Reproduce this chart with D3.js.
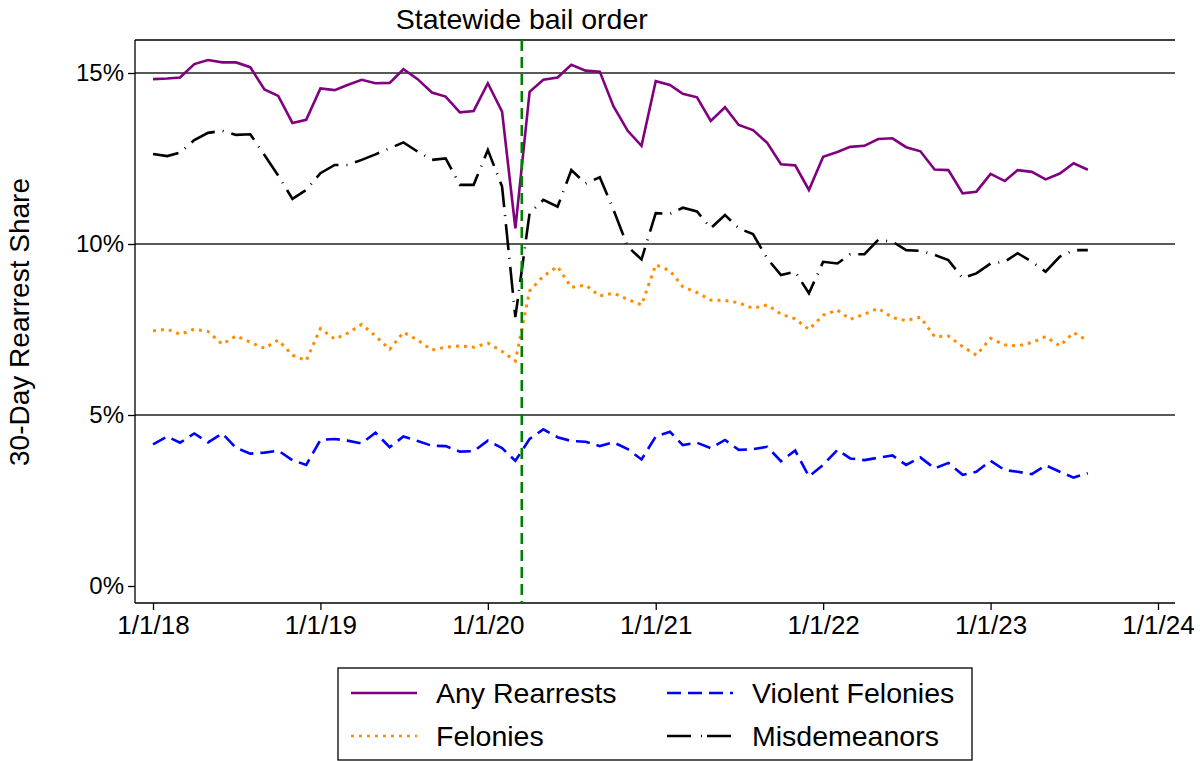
<!DOCTYPE html>
<html><head><meta charset="utf-8">
<script src="https://cdn.jsdelivr.net/npm/d3@7"></script>
<style>body{margin:0;background:#fff;}svg{display:block;font-family:"Liberation Sans",Arial,sans-serif;}</style>
</head><body><svg id="c" width="1200" height="761"></svg>
<script>
// Monthly data: Jan 2018 .. Aug 2023 (values in percent)
const startMonth = "2018-01-01";
const anyRearrests = [14.82,14.84,14.87,15.26,15.38,15.31,15.31,15.17,14.52,14.33,13.54,13.63,
  14.55,14.5,14.65,14.8,14.7,14.71,15.11,14.82,14.43,14.31,13.85,13.89,
  14.7,13.87,10.46,14.45,14.8,14.87,15.24,15.07,15.04,14.02,13.31,12.87,
  14.76,14.65,14.39,14.29,13.6,14.0,13.48,13.33,12.96,12.33,12.3,11.58,
  12.55,12.69,12.84,12.87,13.07,13.09,12.83,12.71,12.18,12.16,11.48,11.53,
  12.05,11.84,12.16,12.11,11.89,12.06,12.36,12.17];
const misdemeanors = [12.63,12.57,12.67,13.04,13.25,13.31,13.19,13.21,12.6,12.0,11.32,11.58,
  12.07,12.31,12.31,12.46,12.62,12.8,12.97,12.7,12.46,12.5,11.73,11.73,
  12.75,11.68,7.86,10.9,11.29,11.09,12.16,11.77,11.95,11.0,9.92,9.55,
  10.9,10.88,11.06,10.95,10.46,10.85,10.46,10.29,9.58,9.09,9.19,8.56,
  9.48,9.43,9.7,9.7,10.12,10.07,9.82,9.8,9.68,9.53,9.0,9.14,
  9.43,9.48,9.73,9.48,9.19,9.63,9.82,9.82];
const felonies = [7.46,7.51,7.36,7.51,7.44,7.07,7.31,7.13,6.95,7.19,6.75,6.59,
  7.53,7.22,7.39,7.65,7.31,6.92,7.42,7.19,6.9,6.98,7.02,6.98,
  7.1,6.86,6.58,8.63,9.06,9.34,8.73,8.8,8.48,8.56,8.38,8.22,
  9.39,9.22,8.75,8.58,8.36,8.35,8.28,8.12,8.22,7.95,7.81,7.5,
  7.92,8.07,7.8,7.95,8.12,7.85,7.76,7.86,7.29,7.31,7.0,6.75,
  7.24,7.05,7.02,7.12,7.29,7.02,7.41,7.17];
const violentFelonies = [4.14,4.37,4.19,4.46,4.2,4.46,4.04,3.87,3.9,3.96,3.68,3.54,
  4.27,4.3,4.25,4.17,4.48,4.06,4.37,4.24,4.1,4.09,3.93,3.94,
  4.25,4.03,3.66,4.3,4.58,4.35,4.24,4.22,4.09,4.2,4.0,3.7,
  4.37,4.51,4.12,4.19,4.03,4.27,3.98,4.0,4.07,3.65,3.96,3.2,
  3.54,3.98,3.73,3.68,3.75,3.82,3.54,3.76,3.44,3.6,3.25,3.34,
  3.66,3.39,3.34,3.27,3.53,3.34,3.17,3.3];
const xTickDates = ["2018-01-01","2019-01-01","2020-01-01","2021-01-01","2022-01-01","2023-01-01","2024-01-01"];
const xTickLabels = ["1/1/18","1/1/19","1/1/20","1/1/21","1/1/22","1/1/23","1/1/24"];
const yTicks = [0,5,10,15];
const yTickLabels = ["0%","5%","10%","15%"];
const yGrid = [5,10,15];
const bailOrderDate = "2020-03-15";
const bailOrderLabel = "Statewide bail order";
const yTitle = "30-Day Rearrest Share";
const seriesNames = ["Any Rearrests","Violent Felonies","Felonies","Misdemeanors"];

const parse = d3.timeParse("%Y-%m-%d");
const t0 = parse(startMonth);
const months = anyRearrests.map((_, i) => d3.timeMonth.offset(t0, i));

const svg = d3.select("#c");
const x = d3.scaleTime().domain([parse(xTickDates[0]), parse(xTickDates[6])]).range([153, 1158]);
const y = d3.scaleLinear().domain([0, 15]).range([586, 73]);
const L = 135, R = 1175, T = 40, B = 603;

// gridlines
svg.append("g").selectAll("line").data(yGrid).join("line")
  .attr("x1", L).attr("x2", R).attr("y1", d => y(d)).attr("y2", d => y(d))
  .attr("stroke", "#222").attr("stroke-width", 1.3);
// top frame
svg.append("line").attr("x1", L).attr("x2", R).attr("y1", T).attr("y2", T).attr("stroke", "#000").attr("stroke-width", 1.3);

// axes
const xAxis = d3.axisBottom(x).tickValues(xTickDates.map(parse)).tickFormat((d, i) => xTickLabels[i]).tickSize(7).tickSizeOuter(0);
const gx = svg.append("g").attr("transform", `translate(0,${B})`).call(xAxis);
gx.select(".domain").remove();
gx.append("line").attr("x1", L).attr("x2", R).attr("stroke", "#000").attr("stroke-width", 1.3);
gx.selectAll(".tick line").attr("stroke", "#000").attr("stroke-width", 1.3);
gx.selectAll(".tick text").attr("font-size", 26).attr("fill", "#000").attr("y", 13).attr("dy", "0.71em").attr("font-family", "Liberation Sans, Arial, sans-serif");

const yAxis = d3.axisLeft(y).tickValues(yTicks).tickFormat((d, i) => yTickLabels[i]).tickSize(7).tickSizeOuter(0);
const gy = svg.append("g").attr("transform", `translate(${L},0)`).call(yAxis);
gy.select(".domain").remove();
gy.append("line").attr("y1", T).attr("y2", B).attr("stroke", "#000").attr("stroke-width", 1.3);
gy.selectAll(".tick line").attr("stroke", "#000").attr("stroke-width", 1.3);
gy.selectAll(".tick text").attr("font-size", 24).attr("fill", "#000").attr("x", -11).attr("font-family", "Liberation Sans, Arial, sans-serif");

// y title
svg.append("text").attr("transform", "translate(29,322) rotate(-90)").attr("text-anchor", "middle")
  .attr("font-size", 28).text(yTitle);

// series
const line = d3.line().x((d, i) => x(months[i])).y(d => y(d));
const styles = [
  {data: violentFelonies, color: "#0000ff", dash: "14,7", w: 2.6},
  {data: felonies, color: "#ff8c00", dash: "3,5", w: 3},
  {data: misdemeanors, color: "#000", dash: "26,8,1,8", w: 2.6},
  {data: anyRearrests, color: "#800080", dash: null, w: 2.6}
];
styles.forEach(s => {
  svg.append("path").datum(s.data).attr("d", line).attr("fill", "none")
    .attr("stroke", s.color).attr("stroke-width", s.w).attr("stroke-dasharray", s.dash)
    .attr("stroke-linejoin", "miter");
});

// bail order line
const bx = x(parse(bailOrderDate));
svg.append("line").attr("x1", bx).attr("x2", bx).attr("y1", T).attr("y2", B)
  .attr("stroke", "#008000").attr("stroke-width", 2.6).attr("stroke-dasharray", "11,6");
svg.append("text").attr("x", bx).attr("y", 29).attr("text-anchor", "middle").attr("font-size", 28.5).text(bailOrderLabel);

// legend
const lg = svg.append("g");
lg.append("rect").attr("x", 338).attr("y", 668).attr("width", 634).attr("height", 92)
  .attr("fill", "#fff").attr("stroke", "#000").attr("stroke-width", 1.3);
const legendItems = [
  {name: seriesNames[0], color: "#800080", dash: null, lx: 351, ly: 693, w: 2.4},
  {name: seriesNames[1], color: "#0000ff", dash: "14,7", lx: 667, ly: 693, w: 2.4},
  {name: seriesNames[2], color: "#ff8c00", dash: "3,5", lx: 351, ly: 736, w: 2.6},
  {name: seriesNames[3], color: "#000", dash: "24,10,1,5", lx: 667, ly: 736, w: 2.4}
];
legendItems.forEach(it => {
  lg.append("line").attr("x1", it.lx).attr("x2", it.lx + 66).attr("y1", it.ly).attr("y2", it.ly)
    .attr("stroke", it.color).attr("stroke-width", it.w).attr("stroke-dasharray", it.dash);
  lg.append("text").attr("x", it.lx + 85).attr("y", it.ly + 10).attr("font-size", 28.5).text(it.name);
});
</script></body></html>
